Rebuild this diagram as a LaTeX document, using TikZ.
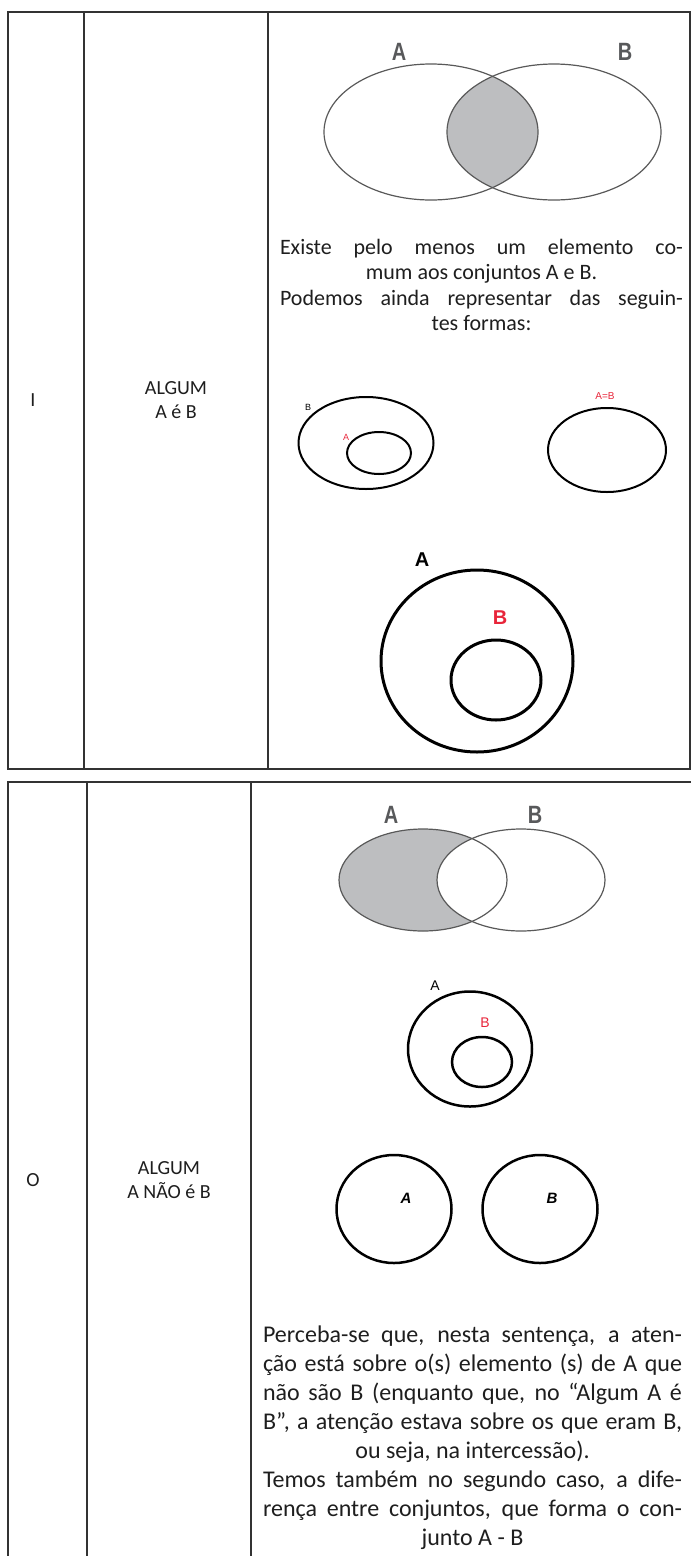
\documentclass[tikz,border=0pt]{standalone}
\usepackage{fontspec}
\setmainfont{Carlito}
\newfontfamily\setfont{Liberation Sans}
\definecolor{txtgray}{HTML}{1E1E1E}
\definecolor{venngray}{HTML}{BDBEC0}
\definecolor{lblgray}{HTML}{58595B}
\definecolor{setred}{HTML}{E8253A}
\newcommand{\fillline}[2]{\makebox[#1][s]{#2}}
\tikzset{
  rule/.style={line width=1.4pt, draw=black!80},
  body/.style={inner sep=0, anchor=north, align=center, text=txtgray},
  collabel/.style={inner sep=0, align=center, text=txtgray, font=\fontsize{20}{24}\selectfont},
  vennline/.style={line width=1.2pt, draw=black!65},
  vennlabel/.style={inner sep=0, text=lblgray, xscale=0.8, font=\setfont\bfseries\fontsize{25}{25}\selectfont},
  setline/.style={line width=2pt},
  smalllabel/.style={inner sep=0, font=\setfont\fontsize{9}{9}\selectfont}
}
\begin{document}
\begin{tikzpicture}[x=1pt, y=-1pt]
\useasboundingbox (0, 0) rectangle (691, 1556);

\draw [rule] (8, 12) rectangle (690, 769);
\draw [rule] (84, 12) -- (84, 769);
\draw [rule] (268, 12) -- (268, 769);

\node (rowI) at (33, 400) [collabel] {I};
\node (kindI) at (176, 400) [collabel] {ALGUM\\A é B};

\begin{scope}
\clip (431, 132) ellipse (107pt and 68pt);
\fill [venngray] (554, 132) ellipse (107pt and 68pt);
\end{scope}
\draw [vennline] (431, 132) ellipse (107pt and 68pt);
\draw [vennline] (554, 132) ellipse (107pt and 68pt);
\node (topA) at (399, 52) [vennlabel] {A};
\node (topB) at (625, 52) [vennlabel] {B};

\node (textI) at (481.5, 239) [body, font=\fontsize{22}{25.5}\selectfont] {%
\fillline{403pt}{Existe pelo menos um elemento co-}\\
mum aos conjuntos A e B.\\
\fillline{403pt}{Podemos ainda representar das seguin-}\\
tes formas:};

\draw [setline] (366, 443) ellipse (67.5pt and 46pt);
\draw [setline] (379, 453) ellipse (32pt and 21pt);
\node (subB) at (308, 407) [smalllabel] {B};
\node (subA) at (346, 437) [smalllabel, text=setred] {A};
\draw [setline] (607, 450) ellipse (59pt and 42pt);
\node (eqAB) at (605, 396) [smalllabel, text=setred, font=\setfont\fontsize{10}{10}\selectfont] {A=B};

\draw [setline, line width=3pt] (477, 661) ellipse (96pt and 91pt);
\draw [setline, line width=3pt] (496, 680) ellipse (45pt and 40pt);
\node (bigA) at (422, 560) [inner sep=0, font=\setfont\bfseries\fontsize{20}{20}\selectfont] {A};
\node (bigB) at (500, 618) [inner sep=0, text=setred, font=\setfont\bfseries\fontsize{20}{20}\selectfont] {B};

\draw [rule] (8, 1556) -- (8, 782) -- (691, 782);
\draw [rule] (87, 782) -- (87, 1556);
\draw [rule] (251, 782) -- (251, 1556);

\node (rowO) at (33, 1180) [collabel] {O};
\node (kindO) at (169, 1180) [collabel] {ALGUM\\A NÃO é B};

\fill [venngray] (423, 880) ellipse (84pt and 51pt);
\fill [white] (521, 880) ellipse (84pt and 51pt);
\draw [vennline] (423, 880) ellipse (84pt and 51pt);
\draw [vennline] (521, 880) ellipse (84pt and 51pt);
\node (botA) at (391, 815) [vennlabel] {A};
\node (botB) at (535, 815) [vennlabel] {B};

\draw [setline, line width=2.5pt] (470, 1049) ellipse (62pt and 57.5pt);
\draw [setline, line width=2.5pt] (482, 1062) ellipse (30pt and 25pt);
\node (inA) at (435, 986) [inner sep=0, font=\setfont\fontsize{14}{14}\selectfont] {A};
\node (inB) at (485, 1023) [inner sep=0, text=setred, font=\setfont\fontsize{14}{14}\selectfont] {B};

\draw [setline, line width=2.5pt] (394, 1209) ellipse (57.5pt and 54pt);
\draw [setline, line width=2.5pt] (540, 1209) ellipse (57.5pt and 54pt);
\node (sepA) at (406, 1198) [inner sep=0, font=\setfont\bfseries\itshape\fontsize{15}{15}\selectfont] {A};
\node (sepB) at (552, 1198) [inner sep=0, font=\setfont\bfseries\itshape\fontsize{15}{15}\selectfont] {B};

\node (textO) at (472.5, 1326) [body, font=\fontsize{24}{29}\selectfont] {%
\fillline{419pt}{Perceba-se que, nesta sentença, a aten-}\\
\fillline{419pt}{ção está sobre o(s) elemento (s) de A que}\\
\fillline{419pt}{não são B (enquanto que, no “Algum A é}\\
\fillline{419pt}{B”, a atenção estava sobre os que eram B,}\\
ou seja, na intercessão).\\
\fillline{419pt}{Temos também no segundo caso, a dife-}\\
\fillline{419pt}{rença entre conjuntos, que forma o con-}\\
junto A - B};
\end{tikzpicture}
\end{document}
